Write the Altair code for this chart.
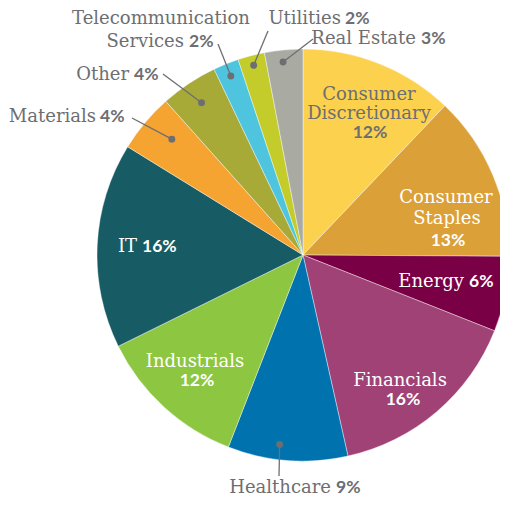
import math
import altair as alt
import pandas as pd

# ---- data -------------------------------------------------------------
categories = ["Consumer Discretionary", "Consumer Staples", "Energy", "Financials",
              "Healthcare", "Industrials", "IT", "Materials", "Other",
              "Telecommunication Services", "Utilities", "Real Estate"]
values = [12.1, 13.0, 5.9, 15.5, 9.4, 11.8, 16.1, 4.6, 4.5, 2.0, 2.1, 3.0]
pct_labels = ["12%", "13%", "6%", "16%", "9%", "12%", "16%", "4%", "4%", "2%", "2%", "3%"]
colors = ["#FCD14D", "#DBA037", "#7A0046", "#A04276", "#0072AE", "#8DC640",
          "#175C64", "#F5A331", "#A8AA38", "#4EC4DF", "#C3CC2A", "#A9ABA3"]

# ---- layout -----------------------------------------------------------
OFF = 8                       # page margin
CX, CY, R = 303 - OFF, 255 - OFF, 206
GRAY, WHITE = "#6d6e71", "#ffffff"
NAME_FONT, PCT_FONT = "DejaVu Serif", "Lato"
NAME_SIZE, PCT_SIZE = 18, 17.5

# text runs: (text, x, baseline y, align, kind, colour) in page pixels
runs = [
    ("Consumer", 369, 100, "center", "name", GRAY),
    ("Discretionary", 369, 119, "center", "name", GRAY),
    ("12%", 370, 138, "center", "pct", GRAY),
    ("Consumer", 446, 203, "center", "name", WHITE),
    ("Staples", 447, 224, "center", "name", WHITE),
    ("13%", 448, 246, "center", "pct", WHITE),
    ("Energy", 464, 287, "right", "name", WHITE),
    ("6%", 469, 287, "left", "pct", WHITE),
    ("Financials", 400, 386, "center", "name", WHITE),
    ("16%", 403, 405, "center", "pct", WHITE),
    ("Healthcare", 331, 493, "right", "name", GRAY),
    ("9%", 336, 493, "left", "pct", GRAY),
    ("Industrials", 195, 367, "center", "name", WHITE),
    ("12%", 197, 386, "center", "pct", WHITE),
    ("IT", 137, 252, "right", "name", WHITE),
    ("16%", 142, 252, "left", "pct", WHITE),
    ("Materials", 96, 122, "right", "name", GRAY),
    ("4%", 100, 122, "left", "pct", GRAY),
    ("Other", 129, 80, "right", "name", GRAY),
    ("4%", 134, 80, "left", "pct", GRAY),
    ("Telecommunication", 161, 24, "center", "name", GRAY),
    ("Services", 184, 47, "right", "name", GRAY),
    ("2%", 189, 47, "left", "pct", GRAY),
    ("Utilities", 341, 24, "right", "name", GRAY),
    ("2%", 345, 24, "left", "pct", GRAY),
    ("Real Estate", 416, 44, "right", "name", GRAY),
    ("3%", 421, 44, "left", "pct", GRAY),
]

# leader lines: category -> (dot radius, angle shift in degrees, label end point in page pixels)
leaders = {
    "Telecommunication Services": (193, 0.0, (218, 44)),
    "Utilities": (196, 0.0, (268, 31)),
    "Real Estate": (194, -0.5, (313, 39)),
    "Other": (183, 0.0, (163, 74)),
    "Materials": (175, 1.5, (132, 118)),
    "Healthcare": (191, 2.7, (279, 476)),
}

# ---- build tables -----------------------------------------------------
pie_df = pd.DataFrame({"category": categories, "value": values,
                       "pct": pct_labels, "hex": colors,
                       "idx": list(range(len(categories)))})

total = sum(values)
cum = 0.0
mid = {}
for c, v in zip(categories, values):
    mid[c] = (cum + v / 2) / total * 2 * math.pi
    cum += v

lead_rows = []
for c, (rr, shift, (lx, ly)) in leaders.items():
    a = mid[c] + math.radians(shift)
    lead_rows.append({"category": c,
                      "px": CX + rr * math.sin(a), "py": CY - rr * math.cos(a),
                      "ex": lx - OFF, "ey": ly - OFF})
lead_df = pd.DataFrame(lead_rows)

# ---- chart ------------------------------------------------------------
pie = alt.Chart(pie_df).mark_arc(radius=R, stroke="#ffffff", strokeWidth=0.4).encode(
    theta=alt.Theta("value:Q", stack=True),
    color=alt.Color("hex:N", scale=None, legend=None),
    order=alt.Order("idx:Q"),
    x=alt.value(CX), y=alt.value(CY),
)

lines = alt.Chart(lead_df).mark_rule(color=GRAY, strokeWidth=1.3).encode(
    x=alt.X("px:Q", scale=None, axis=None), y=alt.Y("py:Q", scale=None, axis=None),
    x2="ex:Q", y2="ey:Q",
)
dots = alt.Chart(lead_df).mark_circle(color=GRAY, opacity=1, size=48).encode(
    x=alt.X("px:Q", scale=None, axis=None), y=alt.Y("py:Q", scale=None, axis=None),
)

text_layers = []
for kind in ["name", "pct"]:
    for al in ["left", "center", "right"]:
        for col in [GRAY, WHITE]:
            rows = [{"label": t, "tx": x - OFF, "ty": y - OFF}
                    for t, x, y, a2, k, c2 in runs if k == kind and a2 == al and c2 == col]
            if not rows:
                continue
            if kind == "name":
                mk = dict(font=NAME_FONT, fontSize=NAME_SIZE, fontWeight="normal")
            else:
                mk = dict(font=PCT_FONT, fontSize=PCT_SIZE, fontWeight="bold")
            text_layers.append(
                alt.Chart(pd.DataFrame(rows)).mark_text(
                    align=al, baseline="alphabetic", color=col, **mk
                ).encode(
                    x=alt.X("tx:Q", scale=None, axis=None),
                    y=alt.Y("ty:Q", scale=None, axis=None),
                    text="label:N",
                )
            )

chart = alt.layer(pie, lines, dots, *text_layers).properties(
    width=492, height=490, autosize="none", padding=0, background="#ffffff"
).configure_view(stroke=None)

chart.save("out.html", embed_options={"renderer": "svg", "actions": False})
